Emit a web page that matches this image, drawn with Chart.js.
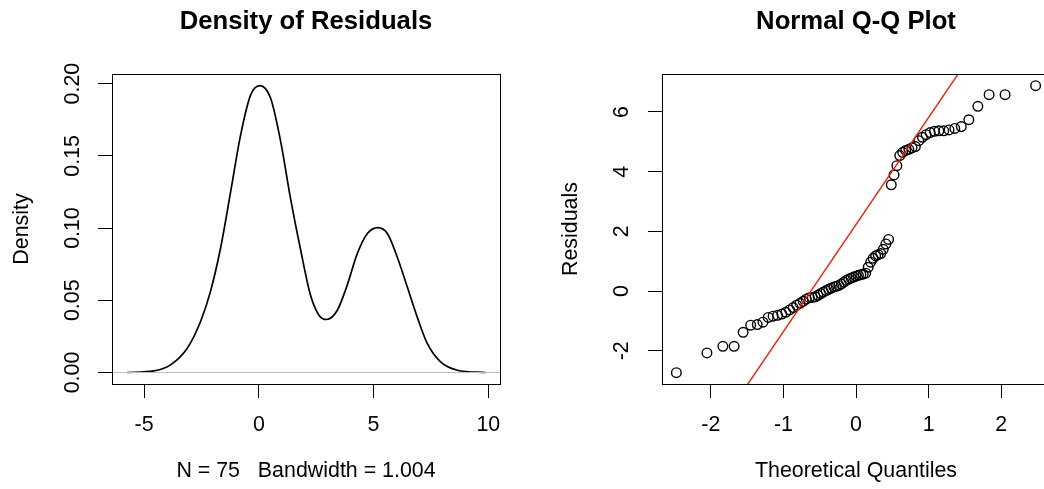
<!DOCTYPE html>
<html lang="en">
  <head>
    <meta charset="UTF-8" />
    <title>Density of Residuals / Normal Q-Q Plot</title>
    <script src="https://cdn.jsdelivr.net/npm/chart.js"></script>
    <style>
      html, body { margin: 0; padding: 0; background: #fff; overflow: hidden; width: 1044px; height: 489px; }
      #left { position: absolute; left: 0; top: 0; }
      #right { position: absolute; left: 522px; top: 0; }
    </style>
  </head>
  <body>
    <canvas id="left" width="522" height="489"></canvas>
    <canvas id="right" width="540" height="489"></canvas>

    <script>
      // density curve
      const densityX = [-5.74, -4.58, -3.85, -3.12, -2.54, -2.11, -1.67, -1.23, -0.8, -0.36, 0.04, 0.51, 0.95, 1.38, 1.82, 2.25, 2.62, 2.95, 3.42, 3.85, 4.29, 4.73, 5.19, 5.6, 6.03, 6.47, 6.9, 7.34, 7.92, 8.65, 9.88];
      const densityY = [0.0, 0.0011, 0.0053, 0.0168, 0.0353, 0.056, 0.086, 0.125, 0.164, 0.192, 0.1986, 0.19, 0.16, 0.1206, 0.085, 0.0536, 0.0397, 0.0367, 0.0431, 0.0604, 0.0823, 0.0962, 0.1003, 0.0962, 0.08, 0.0592, 0.0385, 0.0201, 0.0073, 0.0016, 0.0];
      const zeroLineX = [-6.4, 10.51];
      const zeroLineY = [0, 0];
      const densityXTicks = [-5, 0, 5, 10];
      const densityXLabels = ["-5", "0", "5", "10"];
      const densityYTicks = [0, 0.05, 0.1, 0.15, 0.2];
      const densityYLabels = ["0.00", "0.05", "0.10", "0.15", "0.20"];

      // Q-Q plot
      const qqTheoretical = [
        -2.475, -2.054, -1.834, -1.679, -1.555, -1.451, -1.361, -1.282, -1.209, -1.142,
        -1.08, -1.022, -0.967, -0.915, -0.866, -0.818, -0.772, -0.728, -0.685, -0.643,
        -0.603, -0.563, -0.524, -0.486, -0.449, -0.412, -0.376, -0.341, -0.305, -0.271,
        -0.236, -0.202, -0.168, -0.134, -0.1, -0.067, -0.033, 0.0, 0.033, 0.067,
        0.1, 0.134, 0.168, 0.202, 0.236, 0.271, 0.305, 0.341, 0.376, 0.412,
        0.449, 0.486, 0.524, 0.563, 0.603, 0.643, 0.685, 0.728, 0.772, 0.818,
        0.866, 0.915, 0.967, 1.022, 1.08, 1.142, 1.209, 1.282, 1.361, 1.451,
        1.555, 1.679, 1.834, 2.054, 2.475
      ];
      const qqResiduals = [
        -2.73, -2.07, -1.85, -1.85, -1.38, -1.14, -1.12, -1.04, -0.88, -0.84,
        -0.81, -0.77, -0.71, -0.63, -0.55, -0.47, -0.41, -0.34, -0.27, -0.22,
        -0.21, -0.19, -0.14, -0.08, -0.03, 0.02, 0.06, 0.1, 0.14, 0.16,
        0.19, 0.24, 0.3, 0.36, 0.4, 0.44, 0.47, 0.5, 0.53, 0.55,
        0.57, 0.6, 0.8, 0.97, 1.1, 1.18, 1.22, 1.26, 1.4, 1.58,
        1.73, 3.56, 3.89, 4.2, 4.54, 4.65, 4.71, 4.75, 4.8, 4.84,
        5.04, 5.15, 5.24, 5.31, 5.35, 5.37, 5.37, 5.4, 5.45, 5.51,
        5.74, 6.19, 6.58, 6.58, 6.88
      ];
      const qqLineX = [-3, 3];
      const qqLineY = [-8.52, 12.98];
      const qqXTicks = [-2, -1, 0, 1, 2];
      const qqXLabels = ["-2", "-1", "0", "1", "2"];
      const qqYTicks = [-2, 0, 2, 4, 6];
      const qqYLabels = ["-2", "0", "2", "4", "6"];

      Chart.defaults.font.family = "'Liberation Sans', Arial, Helvetica, sans-serif";
      Chart.defaults.font.size = 21.4;
      Chart.defaults.color = "#000";

      function toPoints(xs, ys) {
        return xs.map((x, i) => ({ x: x, y: ys[i] }));
      }

      const framePlugin = {
        id: "frame",
        afterDatasetsDraw(chart) {
          const { ctx, chartArea } = chart;
          ctx.save();
          ctx.strokeStyle = "#000";
          ctx.lineWidth = 1;
          ctx.strokeRect(
            Math.round(chartArea.left) + 0.5,
            Math.round(chartArea.top) + 0.5,
            Math.round(chartArea.right - chartArea.left),
            Math.round(chartArea.bottom - chartArea.top)
          );
          ctx.restore();
        },
      };

      function axis(min, max, ticks, labels, title, size, isY, tickPad, titlePad) {
        return {
          type: "linear",
          position: isY ? "left" : "bottom",
          min: min,
          max: max,
          afterBuildTicks: (scale) => {
            scale.ticks = ticks.map((v) => ({ value: v }));
          },
          afterFit: (scale) => {
            if (isY) scale.width = size;
            else scale.height = size;
          },
          border: { display: false },
          grid: {
            drawOnChartArea: false,
            drawTicks: true,
            tickLength: 14,
            tickColor: "#000",
            tickWidth: 1,
          },
          ticks: {
            autoSkip: false,
            padding: tickPad,
            minRotation: isY ? 90 : 0,
            maxRotation: isY ? 90 : 0,
            crossAlign: isY ? "center" : "near",
            callback: (value, index) => labels[index],
          },
          title: {
            display: true,
            text: title,
            padding: isY ? { top: titlePad, bottom: 0 } : { top: 0, bottom: titlePad },
          },
        };
      }

      function titleOpts(text) {
        return {
          display: true,
          text: text,
          fullSize: false,
          font: { size: 25.7, weight: "bold" },
          padding: { top: 6.6, bottom: 36.6 },
        };
      }

      new Chart(document.getElementById("left"), {
        type: "scatter",
        data: {
          datasets: [
            {
              data: toPoints(zeroLineX, zeroLineY),
              showLine: true,
              borderColor: "#bebebe",
              borderWidth: 1,
              pointRadius: 0,
            },
            {
              data: toPoints(densityX, densityY),
              showLine: true,
              borderColor: "#000",
              borderWidth: 1.7,
              pointRadius: 0,
              cubicInterpolationMode: "monotone",
            },
          ],
        },
        options: {
          responsive: false,
          animation: false,
          layout: { padding: { left: 0, right: 22, top: 0, bottom: 0 } },
          plugins: {
            legend: { display: false },
            tooltip: { enabled: false },
            title: titleOpts("Density of Residuals"),
          },
          scales: {
            x: axis(-6.4, 10.51, densityXTicks, densityXLabels, "N = 75   Bandwidth = 1.004", 105, false, 14, 5),
            y: axis(-0.00795, 0.2066, densityYTicks, densityYLabels, "Density", 112, true, 4, 9),
          },
        },
        plugins: [framePlugin],
      });

      new Chart(document.getElementById("right"), {
        type: "scatter",
        data: {
          datasets: [
            {
              data: toPoints(qqLineX, qqLineY),
              showLine: true,
              borderColor: "#ff1a00",
              borderWidth: 1.4,
              pointRadius: 0,
            },
            {
              data: toPoints(qqTheoretical, qqResiduals),
              pointStyle: "circle",
              pointRadius: 4.8,
              pointBorderWidth: 1.4,
              pointBorderColor: "#000",
              pointBackgroundColor: "rgba(0,0,0,0)",
            },
          ],
        },
        options: {
          responsive: false,
          animation: false,
          layout: { padding: { left: 0, right: 12, top: 0, bottom: 0 } },
          plugins: {
            legend: { display: false },
            tooltip: { enabled: false },
            title: titleOpts("Normal Q-Q Plot"),
          },
          scales: {
            x: axis(-2.673, 2.673, qqXTicks, qqXLabels, "Theoretical Quantiles", 105, false, 14, 5),
            y: axis(-3.11, 7.27, qqYTicks, qqYLabels, "Residuals", 140, true, 16, 36),
          },
        },
        plugins: [framePlugin],
      });
    </script>
  </body>
</html>
